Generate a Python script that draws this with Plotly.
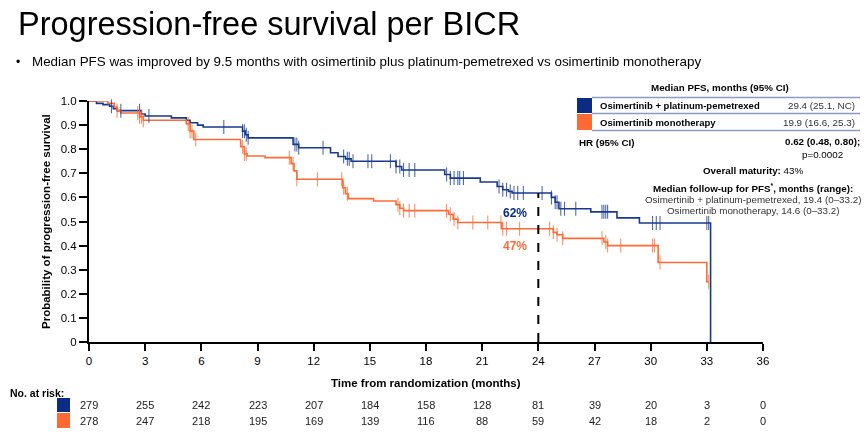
import numpy as np
import plotly.graph_objects as go

# ---------------- data ----------------
BLUE_NAME = "Osimertinib + platinum-pemetrexed"
ORANGE_NAME = "Osimertinib monotherapy"

BLUE_T = [0, 0.4, 0.75, 1.1, 1.3, 1.5, 2.8, 3.0, 4.4, 5.2, 5.4, 5.8, 6.1, 8.2, 8.35, 8.5,
          10.9, 11.2, 12.9, 13.3, 13.7, 14.0, 16.4, 16.7, 19.0, 19.3, 20.9, 21.8, 22.1, 22.4,
          22.6, 24.7, 24.9, 25.1, 26.8, 28.2, 29.4, 33.2]
BLUE_S = [1.0, 0.99, 0.985, 0.978, 0.968, 0.96, 0.946, 0.938, 0.93, 0.92, 0.91, 0.90, 0.892,
          0.875, 0.86, 0.847, 0.82, 0.806, 0.785, 0.77, 0.76, 0.75, 0.728, 0.714, 0.695, 0.68,
          0.664, 0.645, 0.632, 0.625, 0.618, 0.60, 0.58, 0.553, 0.54, 0.515, 0.494, 0.0]
BLUE_CENSOR = [1.2, 1.7, 2.7, 3.2, 7.2, 8.2, 8.3, 8.4, 8.5, 11.0, 11.1, 11.2, 12.5, 13.6, 13.8,
               13.9, 14.1, 14.9, 15.1, 16.1, 16.4, 16.6, 16.8, 17.1, 17.4, 19.1, 19.3, 19.5,
               19.7, 19.8, 20.0, 21.9, 22.1, 22.3, 22.5, 22.7, 22.9, 23.2, 24.2, 24.7, 24.9,
               25.0, 25.2, 25.4, 26.0, 27.4, 27.5, 27.6, 27.7, 30.1, 30.3, 30.5, 33.0, 33.1]

ORANGE_T = [0, 1.0, 1.35, 1.5, 1.7, 2.7, 2.9, 5.2, 5.4, 5.6, 8.1, 8.3, 8.45, 9.4, 10.8, 10.95,
            11.1, 13.55, 13.7, 13.85, 15.2, 16.4, 16.6, 16.8, 19.2, 19.45, 19.7, 22.05, 24.8,
            25.0, 25.3, 27.5, 27.7, 30.4, 33.0]
ORANGE_S = [1.0, 0.99, 0.975, 0.96, 0.95, 0.935, 0.92, 0.905, 0.875, 0.84, 0.81, 0.78, 0.772,
            0.765, 0.74, 0.71, 0.675, 0.64, 0.615, 0.595, 0.585, 0.57, 0.555, 0.545, 0.53, 0.51,
            0.496, 0.47, 0.455, 0.445, 0.43, 0.415, 0.40, 0.33, 0.25]
ORANGE_CENSOR = [1.5, 2.6, 2.7, 2.8, 2.9, 5.3, 5.4, 5.5, 5.7, 8.2, 8.3, 8.4, 10.7, 10.9, 11.1,
                 12.2, 13.5, 13.6, 13.8, 16.5, 16.6, 16.8, 17.1, 17.4, 19.1, 19.3, 19.5, 19.7,
                 20.5, 21.3, 22.0, 22.1, 22.3, 23.0, 24.6, 24.8, 25.0, 25.3, 27.4, 27.6, 27.7,
                 28.4, 30.1, 30.2, 30.5, 33.1]
ORANGE_END = 33.1

LANDMARK = 24
LANDMARK_BLUE_LABEL = "62%"
LANDMARK_ORANGE_LABEL = "47%"

RISK_TIMES = [0, 3, 6, 9, 12, 15, 18, 21, 24, 27, 30, 33, 36]
RISK_BLUE = [279, 255, 242, 223, 207, 184, 158, 128, 81, 39, 20, 3, 0]
RISK_ORANGE = [278, 247, 218, 195, 169, 139, 116, 88, 59, 42, 18, 2, 0]

X_TICKS = list(range(0, 37, 3))
Y_TICKS = [0, 0.1, 0.2, 0.3, 0.4, 0.5, 0.6, 0.7, 0.8, 0.9, 1.0]
Y_TICK_TEXT = ["0", "0.1", "0.2", "0.3", "0.4", "0.5", "0.6", "0.7", "0.8", "0.9", "1.0"]

MEDIAN_BLUE = "29.4 (25.1, NC)"
MEDIAN_ORANGE = "19.9 (16.6, 25.3)"

# ---------------- styles ----------------
BLUE = "#173a8e"
ORANGE = "#ff6b35"
BLUE_BOX = "#0c2c84"
ORANGE_BOX = "#ff6a33"
FONT = "Arial, Liberation Sans, sans-serif"

W, H = 865, 434
L, R, T, B = 89, 102, 101, 92


def px(x):
    return (x - L) / (W - L - R)


def py(y):
    return (H - B - y) / (H - T - B)


def step_value(ts, ss, t):
    i = np.searchsorted(np.array(ts), t, side="right") - 1
    return ss[max(i, 0)]


fig = go.Figure()

# curves
fig.add_trace(go.Scatter(x=BLUE_T, y=BLUE_S, mode="lines", line=dict(color=BLUE, width=1.6, shape="hv"),
                         cliponaxis=False, name=BLUE_NAME))
fig.add_trace(go.Scatter(x=ORANGE_T + [ORANGE_END], y=ORANGE_S + [ORANGE_S[-1]], mode="lines",
                         line=dict(color=ORANGE, width=1.6, shape="hv"), cliponaxis=False, name=ORANGE_NAME))

# censor marks
fig.add_trace(go.Scatter(x=BLUE_CENSOR, y=[step_value(BLUE_T, BLUE_S, t) for t in BLUE_CENSOR],
                         mode="markers", marker=dict(symbol="line-ns", size=10, line=dict(color=BLUE, width=1.1)),
                         opacity=0.75, cliponaxis=False))
fig.add_trace(go.Scatter(x=ORANGE_CENSOR, y=[step_value(ORANGE_T, ORANGE_S, t) for t in ORANGE_CENSOR],
                         mode="markers", marker=dict(symbol="line-ns", size=10, line=dict(color=ORANGE, width=1.1)),
                         opacity=0.75, cliponaxis=False))

# landmark dashed line
blue_at_landmark = step_value(BLUE_T, BLUE_S, LANDMARK)
fig.add_shape(type="line", xref="x", yref="y", x0=LANDMARK, x1=LANDMARK, y0=0, y1=blue_at_landmark,
              line=dict(color="black", width=2, dash="dash"))

ann = []


def text(x, y, s, size=11, color="black", xanchor="center", yanchor="middle", bold=False, align="center"):
    if bold:
        s = "<b>" + s + "</b>"
    ann.append(dict(xref="paper", yref="paper", x=px(x), y=py(y), text=s, showarrow=False,
                    xanchor=xanchor, yanchor=yanchor, align=align,
                    font=dict(family=FONT, size=size, color=color)))


# title & subtitle
text(16, 24, "Progression-free survival per BICR", size=32.5, xanchor="left")
text(14, 62, "•", size=12, xanchor="left")
text(30, 62, "Median PFS was improved by 9.5 months with osimertinib plus platinum-pemetrexed vs osimertinib monotherapy",
     size=13.4, xanchor="left")

# axis titles
ann.append(dict(xref="paper", yref="paper", x=px(38), y=py(222), text="<b>Probability of progression-free survival</b>",
                textangle=-90, showarrow=False, font=dict(family=FONT, size=11.5, color="black")))
text(426, 383, "Time from randomization (months)", size=11.5, bold=True)

# landmark labels
text(515, 213, LANDMARK_BLUE_LABEL, size=12, color=BLUE_BOX, bold=True)
text(515, 246, LANDMARK_ORANGE_LABEL, size=12, color=ORANGE, bold=True)

# legend box
text(720, 87, "Median PFS, months (95% CI)", size=9.8, bold=True)
fig.add_shape(type="rect", xref="paper", yref="paper", x0=px(577), x1=px(592), y0=py(113), y1=py(98),
              fillcolor=BLUE_BOX, line=dict(width=0))
fig.add_shape(type="rect", xref="paper", yref="paper", x0=px(577), x1=px(592), y0=py(130), y1=py(114),
              fillcolor=ORANGE_BOX, line=dict(width=0))
for yy in (97.5, 113.5, 130.5):
    fig.add_shape(type="line", xref="paper", yref="paper", x0=px(592), x1=px(860), y0=py(yy), y1=py(yy),
                  line=dict(color="#8c9ac6", width=1.3))
text(598, 105.5, BLUE_NAME, size=9.5, bold=True, xanchor="left")
text(857, 105.5, MEDIAN_BLUE, size=9.8, xanchor="right", color="#333333")
text(598, 122, ORANGE_NAME, size=9.5, bold=True, xanchor="left")
text(857, 122, MEDIAN_ORANGE, size=9.8, xanchor="right", color="#333333")
text(577, 142, "HR (95% CI)", size=9.8, bold=True, xanchor="left")
text(822, 147.5, "<b>0.62 (0.48, 0.80);</b><br>p=0.0002", size=9.8, yanchor="middle")
text(753, 170, "<b>Overall maturity:</b> 43%", size=9.8)
text(753, 188, "<b>Median follow-up for PFS<sup>*</sup>, months (range):</b>", size=9.8)
text(753, 199, BLUE_NAME + ", 19.4 (0–33.2)", size=9.8, color="#333333")
text(753, 210, ORANGE_NAME + ", 14.6 (0–33.2)", size=9.8, color="#333333")

# number at risk
text(8, 393, "No. at risk:", size=10.5, bold=True, xanchor="left")
fig.add_shape(type="rect", xref="paper", yref="paper", x0=px(57), x1=px(70), y0=py(412), y1=py(398),
              fillcolor=BLUE_BOX, line=dict(width=0))
fig.add_shape(type="rect", xref="paper", yref="paper", x0=px(57), x1=px(70), y0=py(428), y1=py(413),
              fillcolor=ORANGE_BOX, line=dict(width=0))
for t, nb, no in zip(RISK_TIMES, RISK_BLUE, RISK_ORANGE):
    ann.append(dict(xref="x", yref="paper", x=t, y=py(405), text=str(nb), showarrow=False,
                    yanchor="middle", font=dict(family=FONT, size=11, color="#222222")))
    ann.append(dict(xref="x", yref="paper", x=t, y=py(421), text=str(no), showarrow=False,
                    yanchor="middle", font=dict(family=FONT, size=11, color="#222222")))

fig.update_layout(
    width=W, height=H, margin=dict(l=L, r=R, t=T, b=B),
    paper_bgcolor="white", plot_bgcolor="white", showlegend=False,
    font=dict(family=FONT, color="black"),
    annotations=ann,
    xaxis=dict(range=[0, 36], tickvals=X_TICKS, showline=True, linewidth=2, linecolor="black",
               ticks="outside", ticklen=7, tickwidth=2, tickcolor="black", showgrid=False, zeroline=False,
               tickfont=dict(size=11.5, family=FONT, color="black")),
    yaxis=dict(range=[0, 1], tickvals=Y_TICKS, ticktext=Y_TICK_TEXT, showline=True, linewidth=2,
               linecolor="black", ticks="outside", ticklen=8, tickwidth=2, tickcolor="black",
               showgrid=False, zeroline=False, tickfont=dict(size=11.5, family=FONT, color="black")),
)

fig.write_html("out.html", config={"displayModeBar": False},
               post_script="document.body.style.margin='0';document.body.style.padding='0';")
